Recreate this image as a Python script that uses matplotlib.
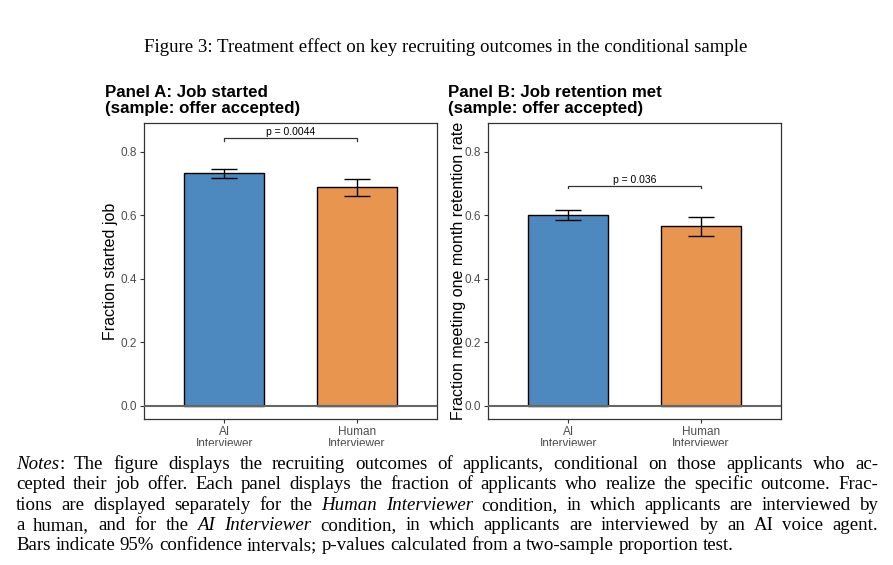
import numpy as np
import matplotlib as mpl
mpl.use('Agg')
import matplotlib.pyplot as plt
from matplotlib.patches import Rectangle

# ---- data -----------------------------------------------------------------
groups = ["AI\nInterviewer", "Human\nInterviewer"]
bar_colors = ["#4D89BE", "#E89550"]

started_mean = [0.732, 0.688]
started_lo = [0.717, 0.660]
started_hi = [0.746, 0.715]
started_p = "p = 0.0044"
started_bracket = 0.843

retention_mean = [0.601, 0.565]
retention_lo = [0.585, 0.536]
retention_hi = [0.617, 0.594]
retention_p = "p = 0.036"
retention_bracket = 0.693

yticks = [0.0, 0.2, 0.4, 0.6, 0.8]

title = "Figure 3: Treatment effect on key recruiting outcomes in the conditional sample"
notes = [
    "*Notes*: The figure displays the recruiting outcomes of applicants, conditional on those applicants who ac-",
    "cepted their job offer. Each panel displays the fraction of applicants who realize the specific outcome. Frac-",
    "tions are displayed separately for the *Human Interviewer* condition, in which applicants are interviewed by",
    "a human, and for the *AI Interviewer* condition, in which applicants are interviewed by an AI voice agent.",
    "Bars indicate 95% confidence intervals; p-values calculated from a two-sample proportion test.",
]

# ---- figure ---------------------------------------------------------------
W, H = 893, 565
fig = plt.figure(figsize=(W / 100, H / 100), dpi=100)
renderer = fig.canvas.get_renderer()

SERIF = "Liberation Serif"
SANS = "Liberation Sans"
GREY = "#4D4D4D"


def fx(px):
    return px / W


def fy(py):
    return 1 - py / H


def panel(left, title_lines, ylabel, label_x, means, lo, hi, ptext, bracket):
    ax = fig.add_axes([fx(left), fy(419), (292.5) / W, (419 - 123) / H])
    x = np.arange(1, len(groups) + 1)
    ax.bar(x, means, width=0.6, color=bar_colors, edgecolor="black", linewidth=1.0, zorder=2)
    err = [np.array(means) - np.array(lo), np.array(hi) - np.array(means)]
    ax.errorbar(x, means, yerr=err, fmt="none", ecolor="black", elinewidth=1.0,
                capsize=9.7, capthick=1.0, zorder=3)
    ax.axhline(0, color="#666666", linewidth=1.5, zorder=4)
    # significance bracket
    ax.plot([1, 1, 2, 2], [bracket - 0.008, bracket, bracket, bracket - 0.008],
            color="#333333", linewidth=0.9, zorder=3)
    ax.text(1.5, bracket + 0.004, ptext, ha="center", va="bottom", fontsize=7.5,
            family=SANS, color="black")
    ax.set_xlim(0.4, 2.6)
    ax.set_ylim(-0.042, 0.891)
    ax.set_xticks(x)
    ax.set_xticklabels(groups, fontsize=8.5, color=GREY, family=SANS, linespacing=1.05)
    ax.set_yticks(yticks)
    ax.set_yticklabels(["%.1f" % v for v in yticks], fontsize=8.5, color=GREY, family=SANS)
    ax.tick_params(axis="both", color="#333333", length=3, width=0.8, pad=2)
    for s in ax.spines.values():
        s.set_color("#333333")
        s.set_linewidth(0.9)
    ax.set_ylabel(ylabel, fontsize=11.5, family=SANS, color="black")
    ax.yaxis.set_label_coords(label_x, 0.5)
    fig.text(fx(title_lines[0]), fy(title_lines[1]), title_lines[2], fontsize=12.2,
             fontweight="bold", family=SANS, va="baseline", ha="left", linespacing=1.05)
    return ax


panel(144.3, (105, 112.5, "Panel A: Job started\n(sample: offer accepted)"),
      "Fraction started job", -0.090, started_mean, started_lo, started_hi,
      started_p, started_bracket)
panel(488.3, (448, 112.5, "Panel B: Job retention met\n(sample: offer accepted)"),
      "Fraction meeting one month retention rate", -0.076, retention_mean,
      retention_lo, retention_hi, retention_p, retention_bracket)

# white band cuts the tick labels like the cropped original
fig.patches.append(Rectangle((0, 0), 1, fy(446), transform=fig.transFigure,
                             facecolor="white", edgecolor="none", zorder=5))


# ---- serif caption text with justification ----------------------------------
def parse_words(line):
    words = []
    italic = False
    for w in line.split(" "):
        pieces = []
        for i, part in enumerate(w.split("*")):
            if i > 0:
                italic = not italic
            if part:
                pieces.append((part, italic))
        words.append(pieces)
    return words


def measure(s, italic, size):
    t = fig.text(0, 0, s, fontsize=size, family=SERIF,
                 style="italic" if italic else "normal")
    w = t.get_window_extent(renderer).width
    t.remove()
    return w


size = 13.6
space = measure("a b", False, size) - measure("ab", False, size)

x0, x1 = 16, 878
y0, dy = 469, 20.3
for i, line in enumerate(notes):
    words = parse_words(line)
    widths = [[measure(p, it, size) for p, it in w] for w in words]
    total = sum(sum(w) for w in widths)
    gap = space
    if i < len(notes) - 1 and len(words) > 1:
        gap = (x1 - x0 - total) / (len(words) - 1)
    x = x0
    for w, ws in zip(words, widths):
        for (p, it), pw in zip(w, ws):
            fig.text(fx(x), fy(y0 + i * dy), p, fontsize=size, family=SERIF,
                     style="italic" if it else "normal", va="baseline", ha="left",
                     zorder=6)
            x += pw
        x += gap

fig.text(fx(445.5), fy(51.5), title, fontsize=size, family=SERIF, ha="center",
         va="baseline", zorder=6)

fig.savefig("out.png", dpi=100)
